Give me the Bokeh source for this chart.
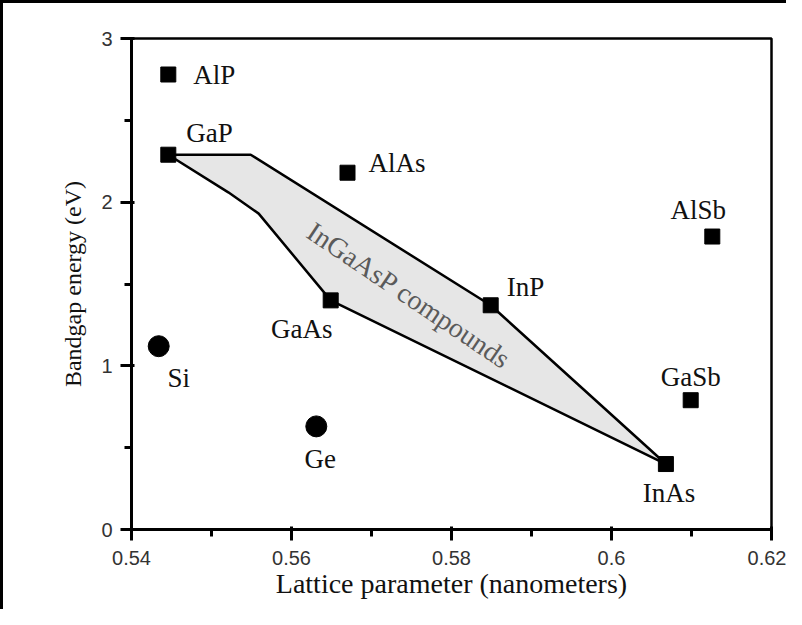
from bokeh.plotting import figure
from bokeh.models import ColumnDataSource, FixedTicker, Range1d
from bokeh.core.properties import value
from bokeh.embed import file_html
from bokeh.resources import INLINE

# --- data ---
sq_names = ["AlP", "GaP", "AlAs", "AlSb", "InP", "GaAs", "GaSb", "InAs"]
sq_lattice = [0.5446, 0.5446, 0.5670, 0.6126, 0.5849, 0.5649, 0.6099, 0.6068]
sq_gap = [2.78, 2.29, 2.18, 1.79, 1.37, 1.40, 0.79, 0.40]

ci_names = ["Si", "Ge"]
ci_lattice = [0.5434, 0.5631]
ci_gap = [1.12, 0.63]

region_lattice = [0.5446, 0.5549, 0.5849, 0.6068, 0.5649, 0.5559, 0.5521]
region_gap = [2.29, 2.29, 1.37, 0.40, 1.40, 1.93, 2.06]

x_ticks = [0.54, 0.56, 0.58, 0.60, 0.62]
x_tick_labels = ["0.54", "0.56", "0.58", "0.6", "0.62"]
x_minor = [0.55, 0.57, 0.59, 0.61]
y_ticks = [0, 1, 2, 3]
y_minor = [0.5, 1.5, 2.5]

region_label = "InGaAsP compounds"
region_label_x = [0.5747]
region_label_y = [1.43]

# label placement (screen pixel offsets)
sq_dx = [25, 18, 21, -14, 16, -29, 0, 3]
sq_dy = [0, -22, -10, -27, -18, 29, -23, 29]
sq_align = ["left", "left", "left", "center", "left", "center", "center", "center"]
ci_dx = [20, 4]
ci_dy = [32, 33]

p = figure(width=786, height=609, output_backend="svg", toolbar_location=None,
           x_range=Range1d(0.54, 0.62), y_range=Range1d(0, 3),
           min_border_left=128, min_border_right=18, min_border_top=35,
           min_border_bottom=83)
p.styles = {"border-left": "3px solid black", "border-top": "3px solid black"}
p.grid.visible = False
p.outline_line_color = "black"
p.outline_line_width = 2.5
p.outline_line_alpha = 1

p.patch(region_lattice, region_gap, fill_color="#e6e6e6", line_color="black",
        line_width=2.5)

sq = ColumnDataSource(dict(x=sq_lattice, y=sq_gap, name=sq_names, dx=sq_dx, dy=sq_dy, align=sq_align))
ci = ColumnDataSource(dict(x=ci_lattice, y=ci_gap, name=ci_names, dx=ci_dx, dy=ci_dy))

p.scatter("x", "y", source=sq, marker="square", size=15, fill_color="black", line_color="black")
p.scatter("x", "y", source=ci, marker="circle", size=21, fill_color="black", line_color="black")

p.text("x", "y", text="name", source=sq, x_offset="dx", y_offset="dy", text_align="align",
       text_baseline="middle", text_font=value("Liberation Serif"), text_font_size="27px",
       text_color="#111111")
p.text("x", "y", text="name", source=ci, x_offset="dx", y_offset="dy", text_align="center",
       text_baseline="middle", text_font=value("Liberation Serif"), text_font_size="27px",
       text_color="#111111")

p.text(region_label_x, region_label_y, text=[region_label], angle=-34, angle_units="deg",
       text_align="center", text_baseline="middle", text_font=value("Liberation Serif"),
       text_font_size="28px", text_color="#5a5a5a")

for ax in (p.xaxis[0], p.yaxis[0]):
    ax.axis_line_width = 3
    ax.axis_line_color = "black"
    ax.major_tick_line_width = 3
    ax.minor_tick_line_width = 3
    ax.major_tick_out = 11
    ax.major_tick_in = 3
    ax.minor_tick_out = 7
    ax.minor_tick_in = 0
    ax.major_label_text_font = "Liberation Sans"
    ax.major_label_text_font_size = "20px"
    ax.major_label_text_color = "#333333"
    ax.axis_label_text_font = "Liberation Serif"
    ax.axis_label_text_font_style = "normal"
    ax.axis_label_text_color = "#111111"

p.xaxis.ticker = FixedTicker(ticks=x_ticks, minor_ticks=x_minor)
p.xaxis.major_label_overrides = {t: l for t, l in zip(x_ticks, x_tick_labels)}
p.yaxis.ticker = FixedTicker(ticks=y_ticks, minor_ticks=y_minor)
p.xaxis.axis_label = "Lattice parameter (nanometers)"
p.yaxis.axis_label = "Bandgap energy (eV)"
p.xaxis.axis_label_text_font_size = "28px"
p.yaxis.axis_label_text_font_size = "24px"
p.xaxis.major_label_standoff = 10
p.yaxis.major_label_standoff = 8
p.xaxis.axis_label_standoff = 0
p.yaxis.axis_label_standoff = 12

open("out.html", "w").write(file_html(p, INLINE))
